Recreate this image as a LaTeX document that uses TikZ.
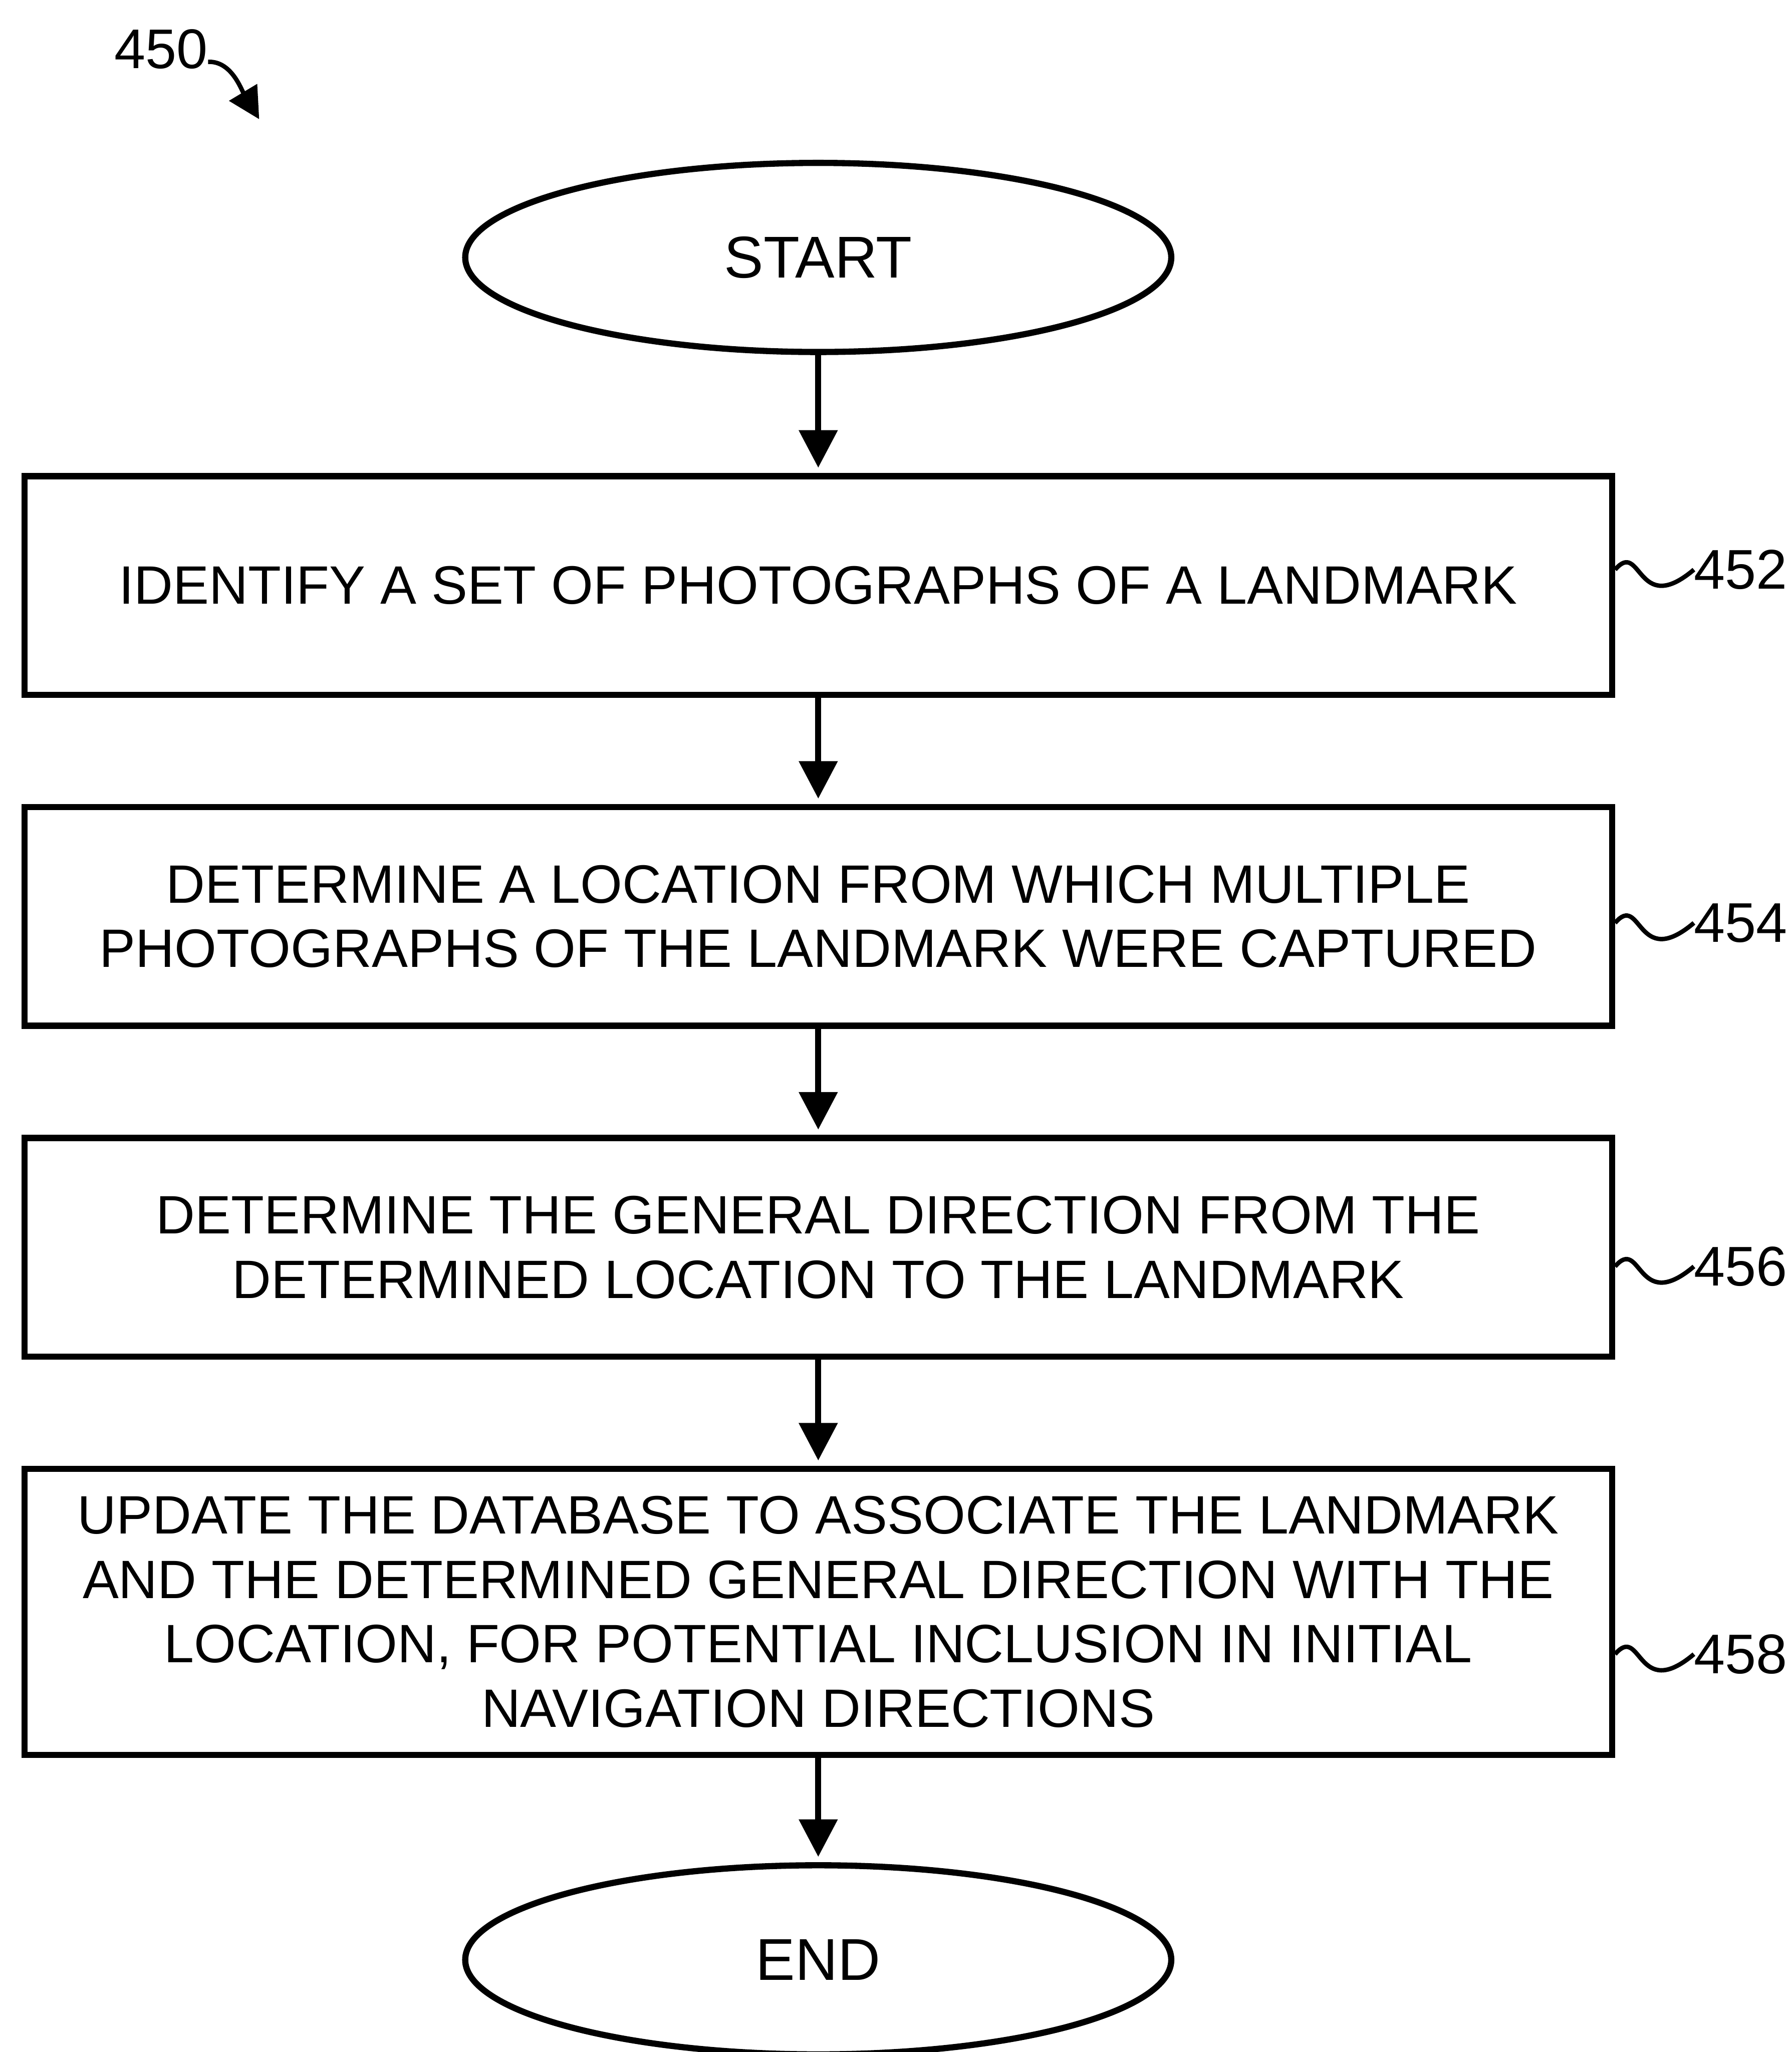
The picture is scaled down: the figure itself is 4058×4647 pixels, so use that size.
\documentclass[tikz,border=0pt]{standalone}
\usepackage{fontspec}
\setmainfont{Liberation Sans}
\usetikzlibrary{arrows.meta, positioning, shapes, shapes.geometric}
\newcommand{\stepfont}{\fontsize{34.8}{41.5}\selectfont}
\newcommand{\termfont}{\fontsize{38}{45}\selectfont}
\newcommand{\refnumfont}{\fontsize{36}{43}\selectfont}

\begin{document}
\begin{tikzpicture}[x=0.01cm, y=-0.01cm,
    stepbox/.style={draw, rectangle, line width=0.14cm, minimum width=35.93cm,
      minimum height=4.95cm, align=center, font=\stepfont, inner sep=0pt},
    terminal/.style={draw, ellipse, line width=0.14cm, minimum width=15.98cm,
      minimum height=4.28cm, font=\termfont, inner sep=0pt},
    flow/.style={line width=0.14cm, -{Triangle[length=0.85cm, width=0.85cm]},
      shorten >=0.12cm},
    refnum/.style={font=\refnumfont, inner sep=0pt, anchor=west},
    leader/.style={line width=0.1cm}]
  \path[fill=white] (0,0) rectangle (4058,4647);
  \useasboundingbox (0,0) rectangle (4058,4647);

  % figure number
  \node[refnum, anchor=center] (l450) at (365,111) {450};
  \coordinate (h450) at (587,270);
  \draw[leader, -{Triangle[length=0.71cm, width=0.72cm]}]
    ([yshift=-0.29cm]l450.east) .. controls +(52,-2) and +(-42,-70) .. (h450);

  % steps
  \node[terminal] (start) at (1853,583) {START};
  \node[stepbox, below=2.67cm of start] (s452)
    {IDENTIFY A SET OF PHOTOGRAPHS OF A LANDMARK};
  \node[stepbox, below=2.4cm of s452] (s454)
    {DETERMINE A LOCATION FROM WHICH MULTIPLE\\
     PHOTOGRAPHS OF THE LANDMARK WERE CAPTURED};
  \node[stepbox, below=2.4cm of s454] (s456)
    {DETERMINE THE GENERAL DIRECTION FROM THE\\
     DETERMINED LOCATION TO THE LANDMARK};
  \node[stepbox, minimum height=6.47cm, below=2.4cm of s456] (s458)
    {UPDATE THE DATABASE TO ASSOCIATE THE LANDMARK\\
     AND THE DETERMINED GENERAL DIRECTION WITH THE\\
     LOCATION, FOR POTENTIAL INCLUSION IN INITIAL\\
     NAVIGATION DIRECTIONS};
  \node[terminal, below=2.36cm of s458] (end) {END};

  \draw[flow] (start) -- (s452);
  \draw[flow] (s452) -- (s454);
  \draw[flow] (s454) -- (s456);
  \draw[flow] (s456) -- (s458);
  \draw[flow] (s458) -- (end);

  % reference numerals
  \foreach \s/\y in {452/1290, 454/2090, 456/2868, 458/3746} {
    \node[refnum] (l\s) at (3836,\y) {\s};
    \draw[leader] (s\s.east |- l\s.west) .. controls +(60,-70) and +(-130,110) .. (l\s.west);
  }
\end{tikzpicture}
\end{document}
